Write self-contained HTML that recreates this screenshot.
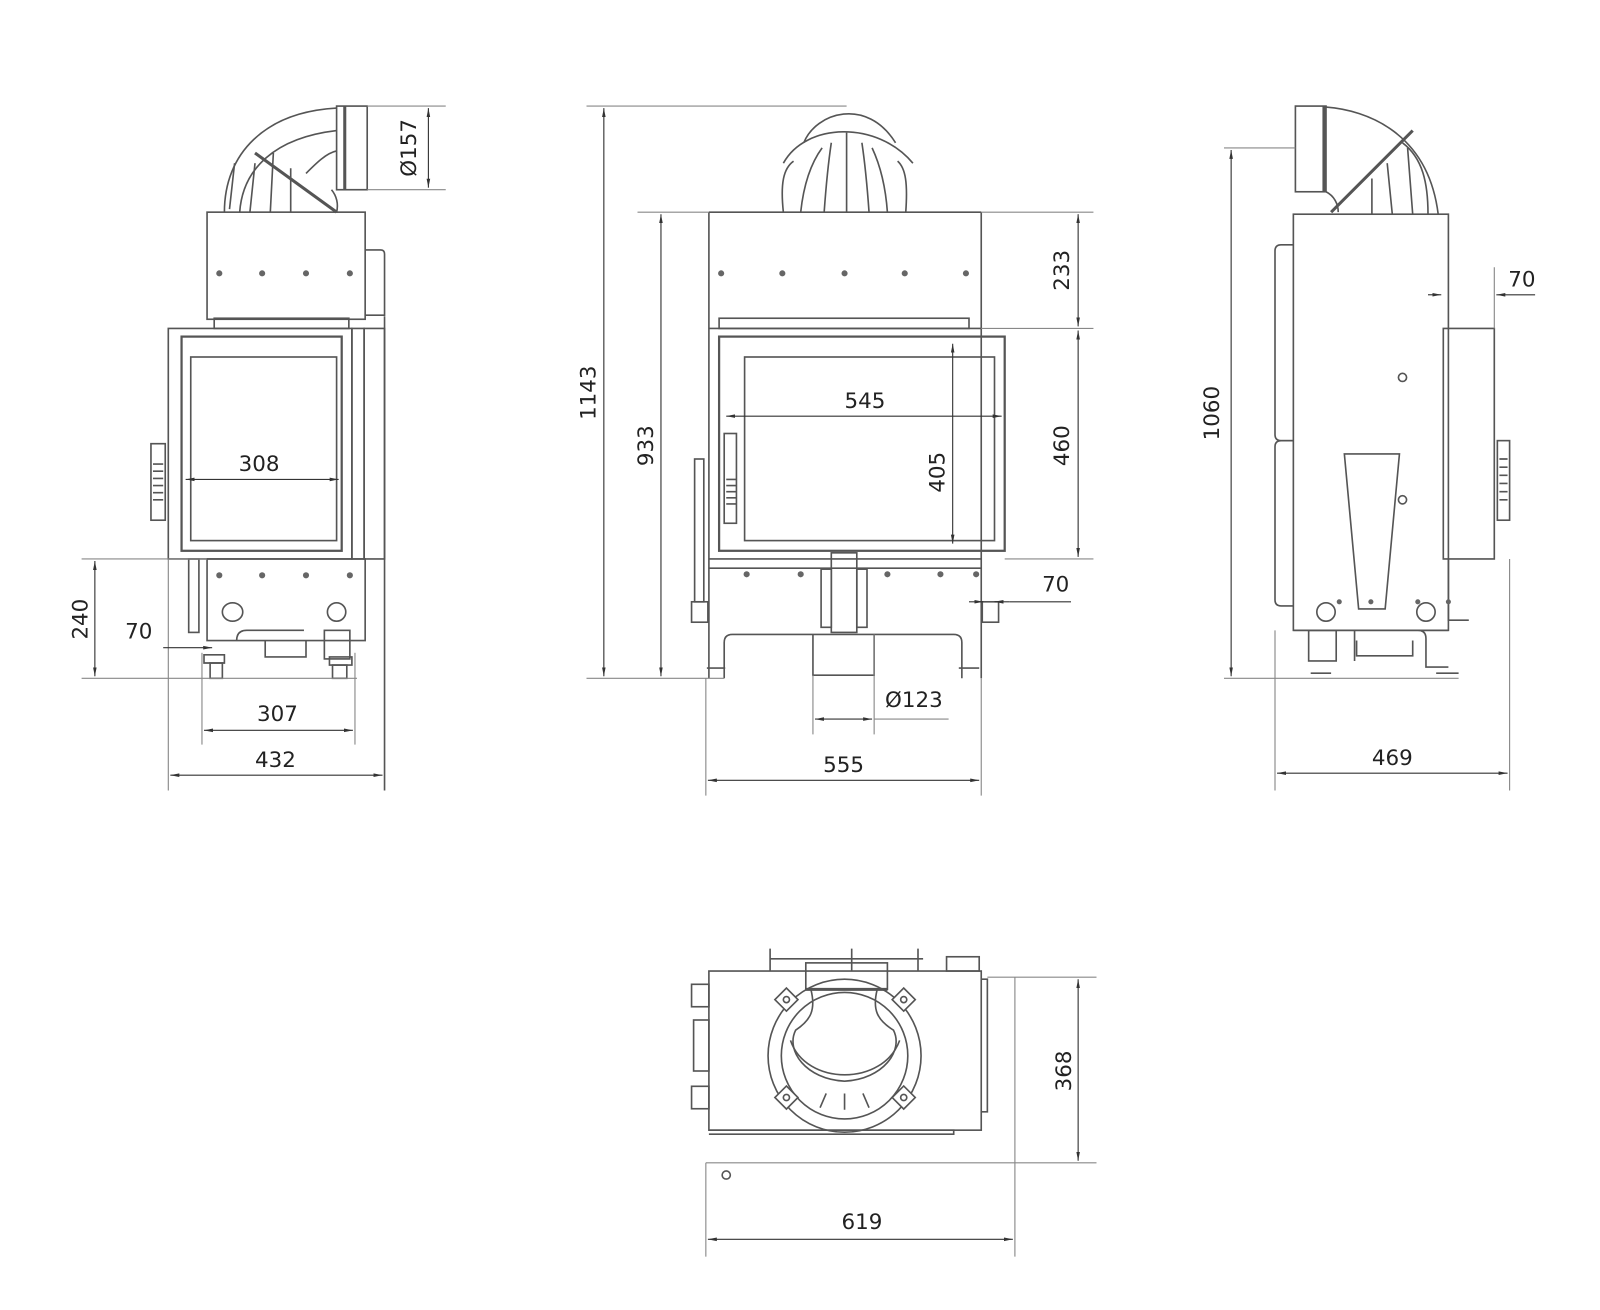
<!DOCTYPE html>
<html><head><meta charset="utf-8"><style>
html,body{margin:0;padding:0;background:#fff}
svg{display:block}
text{font-family:"DejaVu Sans","Liberation Sans",sans-serif;font-size:21px;fill:#222}
</style></head><body>
<svg width="1600" height="1310" viewBox="0 0 1600 1310" xmlns="http://www.w3.org/2000/svg">
<defs>
<marker id="a" viewBox="0 0 10 10" refX="10" refY="5" markerWidth="8" markerHeight="8" orient="auto-start-reverse"><path d="M0,3 L10,5 L0,7 z" fill="#333"/></marker>
</defs>
<g transform="scale(1.02)">
<g stroke="#555" stroke-width="1.6" fill="none">
<!-- ============ LEFT VIEW ============ -->
<path d="M220,208 C220,150 260,110 330,106"/>
<path d="M235,208 C238,165 270,135 330,128"/>
<path d="M250,150 L330,208" stroke-width="3"/>
<path d="M225,205 L230,160 M245,208 L250,160 M265,208 L268,150 M285,208 L285,165"/>
<path d="M300,170 C310,160 320,150 330,148"/>
<rect x="330" y="104" width="30" height="82"/>
<line x1="338" y1="104" x2="338" y2="186" stroke-width="3"/>
<path d="M325,186 C330,192 332,200 330,208"/>
<rect x="203" y="208" width="155" height="105"/>
<path d="M358,245 h15 q4,0 4,4 v60 h-19"/>
<rect x="165" y="322" width="180" height="226"/>
<rect x="178" y="330" width="157" height="210" stroke-width="2.2"/>
<rect x="187" y="350" width="143" height="180"/>
<rect x="345" y="322" width="12" height="226"/>
<rect x="357" y="322" width="20" height="226"/>
<rect x="210" y="312" width="132" height="10"/>
<rect x="148" y="435" width="14" height="75"/>
<path d="M150,455 h10 M150,462 h10 M150,469 h10 M150,476 h10 M150,483 h10 M150,490 h10"/>
<line x1="377" y1="310" x2="377" y2="775"/>
<rect x="203" y="548" width="155" height="80"/>
<ellipse cx="228" cy="600" rx="10" ry="9"/>
<circle cx="330" cy="600" r="9"/>
<path d="M232,628 q0,-10 10,-10 h56 M260,628 v16 h40 v-16"/>
<rect x="318" y="618" width="25" height="28"/>
<rect x="185" y="548" width="10" height="72"/>
<path d="M200,650 h20 v-8 h-20z M323,652 h22 v-8 h-22z"/>
<rect x="206" y="650" width="12" height="15"/>
<rect x="326" y="652" width="14" height="13"/>
<g stroke="#888" stroke-width="1.1">
<line x1="360" y1="104" x2="437" y2="104"/><line x1="360" y1="186" x2="437" y2="186"/>
<line x1="80" y1="548" x2="203" y2="548"/><line x1="80" y1="665" x2="350" y2="665"/>
<line x1="165" y1="548" x2="165" y2="775"/>
<line x1="198" y1="640" x2="198" y2="730"/><line x1="348" y1="640" x2="348" y2="730"/>
</g>
<g stroke="#333" stroke-width="1.1">
<line x1="420" y1="106" x2="420" y2="184" marker-start="url(#a)" marker-end="url(#a)"/>
<line x1="93" y1="550" x2="93" y2="663" marker-start="url(#a)" marker-end="url(#a)"/>
<line x1="160" y1="635" x2="208" y2="635" marker-end="url(#a)"/>
<line x1="182" y1="470" x2="332" y2="470" marker-start="url(#a)" marker-end="url(#a)"/>
<line x1="200" y1="716" x2="346" y2="716" marker-start="url(#a)" marker-end="url(#a)"/>
<line x1="167" y1="760" x2="375" y2="760" marker-start="url(#a)" marker-end="url(#a)"/>
</g>
<!-- ============ MIDDLE VIEW ============ -->
<path d="M788,140 C800,110 850,95 878,140"/>
<path d="M768,160 C790,120 860,118 895,160"/>
<path d="M768,208 C765,180 768,165 778,158 M888,208 C890,180 888,165 880,158"/>
<path d="M785,208 C788,180 795,160 806,145 M808,208 C810,180 812,160 815,140 M830,208 V130 M852,208 C850,180 848,160 845,140 M870,208 C868,180 862,160 855,145"/>
<path d="M695,208 H962 M695,208 V665 M962,208 V665"/>
<path d="M695,322 H962"/>
<rect x="705" y="312" width="245" height="10"/>
<rect x="705" y="330" width="280" height="210" stroke-width="2.2"/>
<rect x="730" y="350" width="245" height="180"/>
<path d="M695,548 H962 M695,557 H962"/>
<rect x="710" y="425" width="12" height="88"/>
<path d="M712,470 h10 M712,476 h10 M712,482 h10 M712,488 h10 M712,494 h10"/>
<rect x="681" y="450" width="9" height="140"/>
<rect x="678" y="590" width="16" height="20"/>
<rect x="963" y="590" width="16" height="20"/>
<rect x="815" y="542" width="25" height="78"/>
<rect x="805" y="558" width="10" height="57"/>
<rect x="840" y="558" width="10" height="57"/>
<path d="M710,665 v-35 q0,-8 8,-8 H935 q8,0 8,8 v35"/>
<path d="M797,622 v40 h60 v-40"/>
<path d="M693,655 h18 M940,655 h20"/>
<g stroke="#888" stroke-width="1.1">
<line x1="575" y1="104" x2="830" y2="104"/>
<line x1="625" y1="208" x2="695" y2="208"/><line x1="962" y1="208" x2="1072" y2="208"/>
<line x1="962" y1="322" x2="1072" y2="322"/><line x1="985" y1="548" x2="1072" y2="548"/>
<line x1="575" y1="665" x2="710" y2="665"/>
<line x1="692" y1="665" x2="692" y2="780"/><line x1="962" y1="665" x2="962" y2="780"/>
<line x1="797" y1="662" x2="797" y2="720"/><line x1="857" y1="622" x2="857" y2="720"/>
<line x1="857" y1="705" x2="930" y2="705"/>
</g>
<g stroke="#333" stroke-width="1.1">
<line x1="592" y1="106" x2="592" y2="663" marker-start="url(#a)" marker-end="url(#a)"/>
<line x1="648" y1="210" x2="648" y2="663" marker-start="url(#a)" marker-end="url(#a)"/>
<line x1="1057" y1="210" x2="1057" y2="320" marker-start="url(#a)" marker-end="url(#a)"/>
<line x1="1057" y1="324" x2="1057" y2="546" marker-start="url(#a)" marker-end="url(#a)"/>
<line x1="712" y1="408" x2="982" y2="408" marker-start="url(#a)" marker-end="url(#a)"/>
<line x1="934" y1="337" x2="934" y2="533" marker-start="url(#a)" marker-end="url(#a)"/>
<line x1="950" y1="590" x2="964" y2="590" marker-end="url(#a)"/>
<line x1="990" y1="590" x2="1050" y2="590"/><line x1="990" y1="590" x2="975" y2="590" marker-end="url(#a)"/>
<line x1="799" y1="705" x2="855" y2="705" marker-start="url(#a)" marker-end="url(#a)"/>
<line x1="694" y1="765" x2="960" y2="765" marker-start="url(#a)" marker-end="url(#a)"/>
</g>
<!-- ============ RIGHT VIEW ============ -->
<rect x="1270" y="104" width="30" height="84"/>
<line x1="1298" y1="104" x2="1298" y2="188" stroke-width="3"/>
<path d="M1300,105 C1340,108 1400,130 1410,210"/>
<path d="M1385,128 L1305,208" stroke-width="3"/>
<path d="M1375,140 C1395,155 1400,180 1400,210 M1380,145 L1385,210 M1360,160 L1365,210 M1345,175 V210"/>
<path d="M1300,188 C1308,192 1312,200 1312,208"/>
<rect x="1268" y="210" width="152" height="408"/>
<path d="M1268,240 h-12 q-6,0 -6,6 v180 q0,6 6,6 h12"/>
<path d="M1268,432 h-12 q-6,0 -6,6 v150 q0,6 6,6 h12"/>
<rect x="1415" y="322" width="50" height="226"/>
<rect x="1468" y="432" width="12" height="78"/>
<path d="M1470,450 h8 M1470,458 h8 M1470,466 h8 M1470,474 h8 M1470,482 h8 M1470,490 h8"/>
<path d="M1420,548 v60 h20"/>
<path d="M1318,445 H1372 L1358,597 H1332 Z"/>
<circle cx="1300" cy="600" r="9"/><circle cx="1398" cy="600" r="9"/>
<circle cx="1375" cy="370" r="4"/><circle cx="1375" cy="490" r="4"/>
<path d="M1268,618 H1420 M1308,618 h20 v30 M1330,628 v15 h55 v-15 M1390,618 q8,0 8,8 v28 h22"/>
<rect x="1283" y="618" width="27" height="30"/>
<path d="M1285,660 h20 M1408,660 h22"/>
<g stroke="#888" stroke-width="1.1">
<line x1="1200" y1="145" x2="1270" y2="145"/>
<line x1="1200" y1="665" x2="1430" y2="665"/>
<line x1="1250" y1="618" x2="1250" y2="775"/><line x1="1480" y1="548" x2="1480" y2="775"/>
<line x1="1465" y1="262" x2="1465" y2="322"/>
</g>
<g stroke="#333" stroke-width="1.1">
<line x1="1207" y1="147" x2="1207" y2="663" marker-start="url(#a)" marker-end="url(#a)"/>
<line x1="1400" y1="289" x2="1413" y2="289" marker-end="url(#a)"/>
<line x1="1505" y1="289" x2="1467" y2="289" marker-end="url(#a)"/>
<line x1="1252" y1="758" x2="1478" y2="758" marker-start="url(#a)" marker-end="url(#a)"/>
</g>
<!-- ============ BOTTOM VIEW ============ -->
<rect x="695" y="952" width="267" height="156"/>
<path d="M695,1108 h240 v4 h-240"/>
<path d="M755,952 v-22 M835,952 v-22 M900,952 v-22 M755,940 h150"/>
<rect x="790" y="944" width="80" height="26"/>
<line x1="790" y1="970" x2="870" y2="970" stroke-width="3"/>
<rect x="928" y="938" width="32" height="14"/>
<rect x="678" y="965" width="17" height="22"/><rect x="680" y="1000" width="15" height="50"/><rect x="678" y="1065" width="17" height="22"/>
<path d="M962,960 h6 v130 h-6"/>
<circle cx="828" cy="1035" r="75"/>
<circle cx="828" cy="1035" r="62"/>
<path d="M795,970 C800,990 795,1000 780,1010 C770,1030 790,1058 828,1060 C866,1058 886,1030 876,1010 C860,1000 855,990 860,970"/>
<path d="M775,1020 C790,1065 866,1065 882,1020"/>
<g fill="#fff"><rect x="763" y="972" width="16" height="16" transform="rotate(45 771 980)"/><rect x="878" y="972" width="16" height="16" transform="rotate(45 886 980)"/><rect x="763" y="1068" width="16" height="16" transform="rotate(45 771 1076)"/><rect x="878" y="1068" width="16" height="16" transform="rotate(45 886 1076)"/></g>
<circle cx="771" cy="980" r="3"/><circle cx="886" cy="980" r="3"/><circle cx="771" cy="1076" r="3"/><circle cx="886" cy="1076" r="3"/>
<path d="M810,1072 l-6,14 M828,1072 v16 M846,1072 l6,14"/>
<circle cx="712" cy="1152" r="4"/>
<g stroke="#888" stroke-width="1.1">
<line x1="968" y1="958" x2="1075" y2="958"/>
<line x1="692" y1="1140" x2="1075" y2="1140"/>
<line x1="692" y1="1140" x2="692" y2="1232"/><line x1="995" y1="958" x2="995" y2="1232"/>
</g>
<g stroke="#333" stroke-width="1.1">
<line x1="1057" y1="960" x2="1057" y2="1138" marker-start="url(#a)" marker-end="url(#a)"/>
<line x1="694" y1="1215" x2="993" y2="1215" marker-start="url(#a)" marker-end="url(#a)"/>
</g>
</g>
<g fill="#666">
<circle cx="215" cy="268" r="3"/><circle cx="257" cy="268" r="3"/><circle cx="300" cy="268" r="3"/><circle cx="343" cy="268" r="3"/>
<circle cx="215" cy="564" r="3"/><circle cx="257" cy="564" r="3"/><circle cx="300" cy="564" r="3"/><circle cx="343" cy="564" r="3"/>
<circle cx="707" cy="268" r="3"/><circle cx="767" cy="268" r="3"/><circle cx="828" cy="268" r="3"/><circle cx="887" cy="268" r="3"/><circle cx="947" cy="268" r="3"/>
<circle cx="732" cy="563" r="3"/><circle cx="785" cy="563" r="3"/><circle cx="870" cy="563" r="3"/><circle cx="922" cy="563" r="3"/><circle cx="957" cy="563" r="3"/>
<circle cx="1313" cy="590" r="2.5"/><circle cx="1344" cy="590" r="2.5"/><circle cx="1390" cy="590" r="2.5"/><circle cx="1420" cy="590" r="2.5"/>
</g>
<text x="254" y="462" text-anchor="middle">308</text>
<text x="136" y="626" text-anchor="middle">70</text>
<text x="272" y="707" text-anchor="middle">307</text>
<text x="270" y="752" text-anchor="middle">432</text>
<text transform="translate(86,607) rotate(-90)" text-anchor="middle">240</text>
<text transform="translate(408,145) rotate(-90)" text-anchor="middle">Ø157</text>
<text transform="translate(584,385) rotate(-90)" text-anchor="middle">1143</text>
<text transform="translate(640,437) rotate(-90)" text-anchor="middle">933</text>
<text transform="translate(926,463) rotate(-90)" text-anchor="middle">405</text>
<text transform="translate(1048,265) rotate(-90)" text-anchor="middle">233</text>
<text transform="translate(1048,437) rotate(-90)" text-anchor="middle">460</text>
<text x="848" y="400" text-anchor="middle">545</text>
<text x="1035" y="580" text-anchor="middle">70</text>
<text x="896" y="693" text-anchor="middle">Ø123</text>
<text x="827" y="757" text-anchor="middle">555</text>
<text transform="translate(1195,405) rotate(-90)" text-anchor="middle">1060</text>
<text x="1492" y="281" text-anchor="middle">70</text>
<text x="1365" y="750" text-anchor="middle">469</text>
<text transform="translate(1050,1050) rotate(-90)" text-anchor="middle">368</text>
<text x="845" y="1205" text-anchor="middle">619</text>
</g>
</svg>
</body></html>
